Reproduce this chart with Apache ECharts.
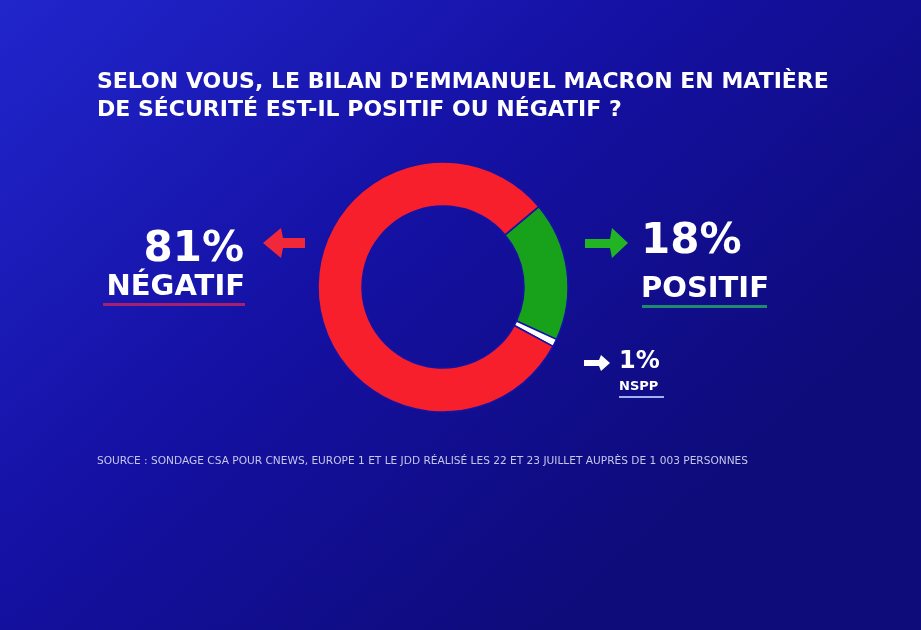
<!DOCTYPE html>
<html>
<head>
<meta charset="utf-8">
<script src="https://cdn.jsdelivr.net/npm/echarts@6/dist/echarts.min.js"></script>
<style>
    html, body { margin: 0; padding: 0; }
    #chart { width: 921px; height: 630px; }
</style>
</head>
<body>
<div id="chart"></div>
<script>
// 数据
const titleLines = ['SELON VOUS, LE BILAN D\'EMMANUEL MACRON EN MATIÈRE', 'DE SÉCURITÉ EST-IL POSITIF OU NÉGATIF ?'];
const categories = ['POSITIF', 'NSPP', 'NÉGATIF'];
const values = [18, 1, 81];
const colors = ['#18a21c', '#ffffff', '#f81f2d'];
const sourceText = 'SOURCE : SONDAGE CSA POUR CNEWS, EUROPE 1 ET LE JDD RÉALISÉ LES 22 ET 23 JUILLET AUPRÈS DE 1 003 PERSONNES';

const bg = '#1612a6';
const font = 'DejaVu Sans';

const myChart = echarts.init(document.getElementById('chart'));

function pct(i) {
    return values[i] + '%';
}

const option = {
    backgroundColor: {
        type: 'linear', x: 0, y: 0, x2: 0.6, y2: 1,
        colorStops: [
            { offset: 0, color: '#2126cc' },
            { offset: 0.5, color: '#1511a4' },
            { offset: 1, color: '#0e0b7a' }
        ]
    },
    animation: false,
    series: [
        {
            type: 'pie',
            center: [443, 287],
            radius: [81, 125],
            startAngle: 40,
            clockwise: true,
            label: { show: false },
            labelLine: { show: false },
            itemStyle: {
                borderColor: bg,
                borderWidth: 1.5
            },
            data: categories.map((name, i) => ({
                name: name,
                value: values[i],
                itemStyle: { color: colors[i] }
            }))
        }
    ],
    graphic: [
        // 标题
        {
            type: 'text', left: 97, top: 71,
            style: { text: titleLines[0], fill: '#fff', font: 'bold 22px "' + font + '"' }
        },
        {
            type: 'text', left: 97, top: 99,
            style: { text: titleLines[1], fill: '#fff', font: 'bold 22px "' + font + '"' }
        },
        // 左：负面
        {
            type: 'text', x: 244, y: 250,
            style: { text: pct(2), fill: '#fff', font: 'bold 42px "' + font + '"', align: 'right', verticalAlign: 'middle' }
        },
        {
            type: 'text', x: 245, y: 287,
            style: { text: categories[2], fill: '#fff', font: 'bold 29px "' + font + '"', align: 'right', verticalAlign: 'middle' }
        },
        {
            type: 'rect', shape: { x: 103, y: 303, width: 142, height: 3 },
            style: { fill: '#a5206e' }
        },
        {
            type: 'polygon',
            shape: { points: [[263, 243], [281, 228], [283, 238], [305, 238], [305, 248], [283, 248], [281, 258]] },
            style: { fill: '#f0283a' }
        },
        // 右：正面
        {
            type: 'text', x: 641, y: 242,
            style: { text: pct(0), fill: '#fff', font: 'bold 42px "' + font + '"', align: 'left', verticalAlign: 'middle' }
        },
        {
            type: 'text', x: 641, y: 289,
            style: { text: categories[0], fill: '#fff', font: 'bold 29px "' + font + '"', align: 'left', verticalAlign: 'middle' }
        },
        {
            type: 'rect', shape: { x: 642, y: 305, width: 125, height: 3 },
            style: { fill: '#1f8a6e' }
        },
        {
            type: 'polygon',
            shape: { points: [[628, 243], [612, 228], [610, 239], [585, 239], [585, 248], [610, 248], [612, 258]] },
            style: { fill: '#22b523' }
        },
        // NSPP
        {
            type: 'text', x: 619, y: 362,
            style: { text: pct(1), fill: '#fff', font: 'bold 24px "' + font + '"', align: 'left', verticalAlign: 'middle' }
        },
        {
            type: 'text', x: 619, y: 387,
            style: { text: categories[1], fill: '#fff', font: 'bold 13px "' + font + '"', align: 'left', verticalAlign: 'middle' }
        },
        {
            type: 'rect', shape: { x: 619, y: 396, width: 45, height: 2 },
            style: { fill: '#9fb0f4' }
        },
        {
            type: 'polygon',
            shape: { points: [[610, 363], [601, 355], [599, 360], [584, 360], [584, 366], [599, 366], [601, 371]] },
            style: { fill: '#ffffff' }
        },
        // 来源
        {
            type: 'text', left: 97, top: 456,
            style: { text: sourceText, fill: '#c4c8ec', font: '10.6px "DejaVu Sans"' }
        }
    ]
};

myChart.setOption(option);
</script>
</body>
</html>
